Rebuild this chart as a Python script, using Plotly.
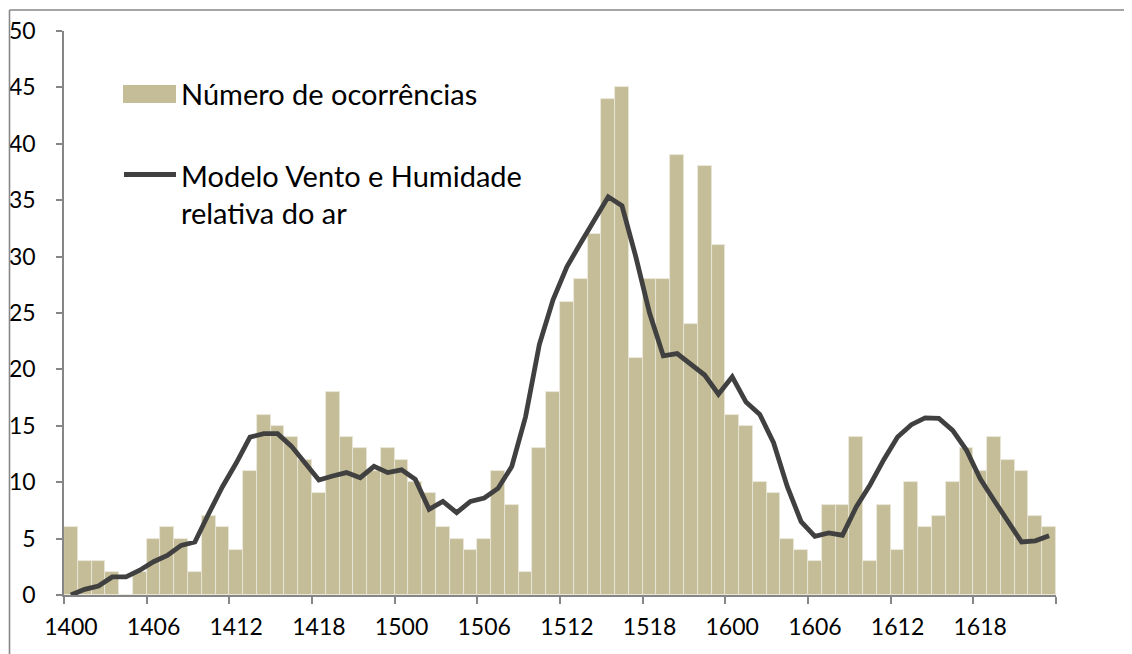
import plotly.graph_objects as go

categories = [
    "1400", "1401", "1402", "1403", "1404", "1405", "1406", "1407", "1408", "1409", "1410", "1411",
    "1412", "1413", "1414", "1415", "1416", "1417", "1418", "1419", "1420", "1421", "1422", "1423",
    "1500", "1501", "1502", "1503", "1504", "1505", "1506", "1507", "1508", "1509", "1510", "1511",
    "1512", "1513", "1514", "1515", "1516", "1517", "1518", "1519", "1520", "1521", "1522", "1523",
    "1600", "1601", "1602", "1603", "1604", "1605", "1606", "1607", "1608", "1609", "1610", "1611",
    "1612", "1613", "1614", "1615", "1616", "1617", "1618", "1619", "1620", "1621", "1622", "1623",
]

ocorrencias = [
    6, 3, 3, 2, 0, 2, 5, 6, 5, 2, 7, 6, 4, 11, 16, 15, 14, 12, 9, 18, 14, 13, 11, 13,
    12, 10, 9, 6, 5, 4, 5, 11, 8, 2, 13, 18, 26, 28, 32, 44, 45, 21, 28, 28, 39, 24, 38, 31,
    16, 15, 10, 9, 5, 4, 3, 8, 8, 14, 3, 8, 4, 10, 6, 7, 10, 13, 11, 14, 12, 11, 7, 6,
]

modelo = [
    0.0, 0.5, 0.8, 1.6, 1.6, 2.2, 2.95, 3.5, 4.4, 4.7, 7.2, 9.6,
    11.7, 14.0, 14.3, 14.3, 13.2, 11.7, 10.2, 10.55, 10.85, 10.4, 11.4, 10.85,
    11.1, 10.25, 7.6, 8.3, 7.3, 8.3, 8.6, 9.45, 11.4, 15.8, 22.2, 26.2,
    29.1, 31.2, 33.2, 35.3, 34.5, 30.0, 25.0, 21.2, 21.4, 20.4, 19.5, 17.8,
    19.35, 17.1, 16.0, 13.5, 9.6, 6.5, 5.2, 5.5, 5.3, 7.8, 9.75, 12.0,
    14.0, 15.1, 15.7, 15.65, 14.6, 12.85, 10.3, 8.4, 6.6, 4.7, 4.8, 5.25,
]

serie_barras = "Número de ocorrências"
serie_linha_1 = "Modelo Vento e Humidade"
serie_linha_2 = "relativa do ar"

label_step = 6
y_ticks = [0, 5, 10, 15, 20, 25, 30, 35, 40, 45, 50]

BAR_COLOR = "#C4BD97"
LINE_COLOR = "#404040"
AXIS_COLOR = "#868686"
FONT = "Lato"

# page offset (default body margin of the html page)
OFF = 8
SCREEN_W, SCREEN_H = 1132, 654
W, H = SCREEN_W - OFF, SCREEN_H - OFF
# plot area in screen pixels
L, R, T, B = 64, 1056, 31, 595

idx = list(range(len(categories)))

fig = go.Figure()
fig.add_trace(go.Bar(
    x=idx, y=ocorrencias, width=1.0, customdata=categories,
    marker=dict(color=BAR_COLOR, line=dict(color="#ECE9DD", width=0.8)),
    name=serie_barras, showlegend=False,
    hovertemplate="%{customdata}: %{y}<extra></extra>",
))
fig.add_trace(go.Scatter(
    x=idx, y=modelo, mode="lines", customdata=categories,
    line=dict(color=LINE_COLOR, width=4.8),
    name=serie_linha_1 + " " + serie_linha_2, showlegend=False,
    hovertemplate="%{customdata}: %{y}<extra></extra>",
))

def px_x(p):
    return (p - L) / (R - L)

def px_y(p):
    return (B - p) / (B - T)

shapes = [
    # outer chart border (left and top)
    dict(type="line", xref="paper", yref="paper", x0=px_x(9.5), x1=px_x(9.5), y0=px_y(670), y1=px_y(10),
         line=dict(color="#878787", width=1.6)),
    dict(type="line", xref="paper", yref="paper", x0=px_x(9.5), x1=px_x(1150), y0=px_y(10), y1=px_y(10),
         line=dict(color="#878787", width=1.6)),
    # legend swatch
    dict(type="rect", xref="paper", yref="paper", x0=px_x(123), x1=px_x(176), y0=px_y(103), y1=px_y(85),
         line=dict(width=0), fillcolor=BAR_COLOR),
    dict(type="line", xref="paper", yref="paper", x0=px_x(124), x1=px_x(176), y0=px_y(174.5), y1=px_y(174.5),
         line=dict(color=LINE_COLOR, width=5)),
]

LEG_SIZE = 29
annotations = [
    dict(text=serie_barras, xref="paper", yref="paper", x=px_x(179), y=px_y(93),
         xanchor="left", yanchor="middle", showarrow=False, font=dict(family=FONT, size=LEG_SIZE, color="black")),
    dict(text=serie_linha_1, xref="paper", yref="paper", x=px_x(179), y=px_y(175),
         xanchor="left", yanchor="middle", showarrow=False, font=dict(family=FONT, size=LEG_SIZE, color="black")),
    dict(text=serie_linha_2, xref="paper", yref="paper", x=px_x(179), y=px_y(212),
         xanchor="left", yanchor="middle", showarrow=False, font=dict(family=FONT, size=LEG_SIZE, color="black")),
]

n = len(categories)
fig.update_layout(
    width=W, height=H,
    margin=dict(l=L - OFF, r=W - (R - OFF), t=T - OFF, b=H - (B - OFF), pad=0, autoexpand=False),
    paper_bgcolor="white", plot_bgcolor="white",
    font=dict(family=FONT, color="black"),
    bargap=0,
    shapes=shapes, annotations=annotations,
    showlegend=False,
)
fig.update_xaxes(
    range=[-0.5, n - 0.5],
    tickmode="array",
    tickvals=idx[::label_step],
    ticktext=categories[::label_step],
    ticks="", showgrid=False, zeroline=False,
    showline=True, linecolor=AXIS_COLOR, linewidth=1.5,
    tickfont=dict(family=FONT, size=23, color="black"),
    ticklabelstandoff=11,
    automargin=False,
    minor=dict(tickmode="linear", tick0=-0.5, dtick=label_step, ticks="outside",
               ticklen=7, tickcolor=AXIS_COLOR, tickwidth=1.5, showgrid=False),
)
fig.update_yaxes(
    range=[0, 50], tickmode="array", tickvals=y_ticks,
    ticks="outside", ticklen=6, tickcolor=AXIS_COLOR, tickwidth=1.5,
    showgrid=False, zeroline=False,
    showline=True, linecolor=AXIS_COLOR, linewidth=1.5,
    tickfont=dict(family=FONT, size=23, color="black"),
    ticklabelstandoff=16,
    automargin=False,
)

fig.write_html("out.html")
